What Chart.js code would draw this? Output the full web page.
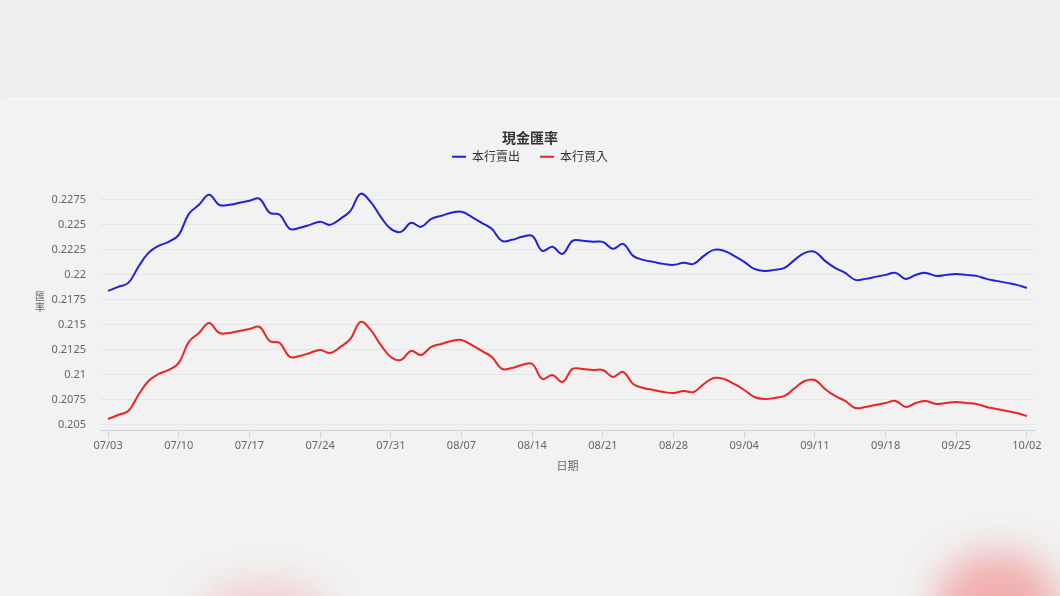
<!DOCTYPE html>
<html>
<head>
<meta charset="utf-8">
<title>現金匯率</title>
<script src="https://cdn.jsdelivr.net/npm/chart.js@4.4.1/dist/chart.umd.min.js"></script>
<style>
  html, body { margin: 0; padding: 0; }
  body {
    width: 1060px; height: 596px; overflow: hidden; position: relative;
    background: #f2f2f2;
    font-family: "Noto Sans CJK TC", "Noto Sans", sans-serif;
  }
  .topband { position: absolute; left: 0; top: 0; width: 1060px; height: 98px; background: #efefef; }
  .topline { position: absolute; left: 8px; top: 98px; width: 1052px; height: 2px; background: #fafafa; }
  .blob { position: absolute; border-radius: 50%; filter: blur(18px); }
  .blob.r { left: 935px; top: 552px; width: 125px; height: 110px; background: rgba(240,120,120,0.55); }
  .blob.l { left: 200px; top: 582px; width: 130px; height: 60px; background: rgba(240,140,140,0.35); }
  #wrap { position: absolute; left: 0; top: 0; width: 1060px; height: 596px; }
</style>
</head>
<body>
<div class="topband"></div>
<div class="topline"></div>
<div class="blob r"></div>
<div class="blob l"></div>
<div id="wrap"><canvas id="rateChart"></canvas></div>
<script>
  // daily categories 07/03 .. 10/02
  const dates = [];
  for (let d = new Date(2023, 6, 3); d <= new Date(2023, 9, 2); d.setDate(d.getDate() + 1)) {
    dates.push(String(d.getMonth() + 1).padStart(2, '0') + '/' + String(d.getDate()).padStart(2, '0'));
  }

  // 本行賣出
  const sellRates = [
    0.2184, 0.2188, 0.2192, 0.2208, 0.2222, 0.2229, 0.2233, 0.2240, 0.2261, 0.2270,
    0.2280, 0.2270, 0.2270, 0.2272, 0.2274, 0.2276, 0.2262, 0.2260, 0.2246, 0.2247,
    0.2250, 0.2253, 0.2250, 0.2256, 0.2264, 0.2281, 0.2273, 0.2258, 0.2246, 0.2243,
    0.2252, 0.2248, 0.2256, 0.2259, 0.2262, 0.2263, 0.2258, 0.2252, 0.2246, 0.2234,
    0.2235, 0.2238, 0.2239, 0.2224, 0.2228, 0.2221, 0.2234, 0.2234, 0.2233, 0.2233,
    0.2226, 0.2231, 0.2219, 0.2215, 0.2213, 0.2211, 0.2210, 0.2212, 0.2211, 0.2219,
    0.2225, 0.2224, 0.2219, 0.2213, 0.2206, 0.2204, 0.2205, 0.2207, 0.2215, 0.2222,
    0.2223, 0.2214, 0.2207, 0.2202, 0.2195, 0.2196, 0.2198, 0.2200, 0.2202, 0.2196,
    0.2200, 0.2202, 0.2199, 0.2200, 0.2201, 0.2200, 0.2199, 0.2196, 0.2194, 0.2192,
    0.2190, 0.2187
  ];

  // 本行買入
  const buyRates = [
    0.2056, 0.2060, 0.2064, 0.2080, 0.2094, 0.2101, 0.2105, 0.2112, 0.2133, 0.2142,
    0.2152, 0.2142, 0.2142, 0.2144, 0.2146, 0.2148, 0.2134, 0.2132, 0.2118, 0.2119,
    0.2122, 0.2125, 0.2122, 0.2128, 0.2136, 0.2153, 0.2145, 0.2130, 0.2118, 0.2115,
    0.2124, 0.2120, 0.2128, 0.2131, 0.2134, 0.2135, 0.2130, 0.2124, 0.2118, 0.2106,
    0.2107, 0.2110, 0.2111, 0.2096, 0.2100, 0.2093, 0.2106, 0.2106, 0.2105, 0.2105,
    0.2098, 0.2103, 0.2091, 0.2087, 0.2085, 0.2083, 0.2082, 0.2084, 0.2083, 0.2091,
    0.2097, 0.2096, 0.2091, 0.2085, 0.2078, 0.2076, 0.2077, 0.2079, 0.2087, 0.2094,
    0.2095, 0.2086, 0.2079, 0.2074, 0.2067, 0.2068, 0.2070, 0.2072, 0.2074, 0.2068,
    0.2072, 0.2074, 0.2071, 0.2072, 0.2073, 0.2072, 0.2071, 0.2068, 0.2066, 0.2064,
    0.2062, 0.2059
  ];

  const seriesNames = ['本行賣出', '本行買入'];
  const seriesColors = ['#2121dc', '#ee2424'];
  const yTickTop = 0.2275; // highest labelled tick

  function toPoints(values) {
    return values.map((v, i) => ({ x: i, y: v }));
  }

  // upright stacked y-axis title (匯 over 率)
  const yTitlePlugin = {
    id: 'yTitle',
    afterDraw(chart) {
      const ctx = chart.ctx;
      const area = chart.chartArea;
      const cx = area.left - 60;
      const cy = (area.top + area.bottom) / 2;
      ctx.save();
      ctx.font = '10px "Noto Sans CJK TC", sans-serif';
      ctx.fillStyle = '#666';
      ctx.textAlign = 'center';
      ctx.textBaseline = 'middle';
      ctx.fillText('匯', cx, cy - 5);
      ctx.fillText('率', cx, cy + 6);
      ctx.restore();
    }
  };

  const ctx = document.getElementById('rateChart').getContext('2d');
  new Chart(ctx, {
    type: 'line',
    data: {
      datasets: [
        { label: seriesNames[0], data: toPoints(sellRates), borderColor: seriesColors[0], backgroundColor: seriesColors[0], borderWidth: 2 },
        { label: seriesNames[1], data: toPoints(buyRates), borderColor: seriesColors[1], backgroundColor: seriesColors[1], borderWidth: 2 }
      ]
    },
    options: {
      responsive: true,
      maintainAspectRatio: false,
      animation: false,
      layout: { padding: { top: 119, left: 25, right: 25, bottom: 124 } },
      elements: {
        line: { borderWidth: 2, tension: 0.4 },
        point: { radius: 0, hoverRadius: 0 }
      },
      plugins: {
        tooltip: { enabled: false },
        title: {
          display: true,
          text: '現金匯率',
          color: '#333',
          font: { size: 14, weight: 'bold', family: '"Noto Sans CJK TC", sans-serif' },
          padding: { top: 10, bottom: -15 }
        },
        legend: {
          labels: {
            usePointStyle: true,
            pointStyle: 'line',
            pointStyleWidth: 14,
            padding: 20,
            color: '#333',
            font: { size: 12, family: '"Noto Sans CJK TC", sans-serif' }
          }
        }
      },
      scales: {
        x: {
          type: 'linear',
          min: -0.8,
          max: 91.8,
          afterFit: s => { s.height = 42; },
          border: { color: '#ccd6eb' },
          grid: { drawOnChartArea: false, color: '#ccd6eb', tickLength: 8 },
          ticks: {
            stepSize: 7,
            includeBounds: false,
            autoSkip: false,
            maxRotation: 0,
            padding: 1,
            color: '#666',
            font: { size: 11, family: '"Noto Sans", sans-serif' },
            callback: v => dates[v]
          },
          title: {
            display: true,
            text: '日期',
            color: '#666',
            padding: 0,
            font: { size: 11, family: '"Noto Sans CJK TC", sans-serif' }
          }
        },
        y: {
          min: 0.2045,
          max: 0.2302,
          afterFit: s => { s.width = 75; },
          border: { display: false },
          grid: { color: '#e6e6e6', drawTicks: false },
          ticks: {
            stepSize: 0.0025,
            includeBounds: false,
            padding: 14,
            color: '#666',
            font: { size: 11, family: '"Noto Sans", sans-serif' },
            callback: v => (v > yTickTop + 1e-6 ? null : String(+v.toFixed(4)))
          }
        }
      }
    },
    plugins: [yTitlePlugin]
  });
</script>
</body>
</html>
